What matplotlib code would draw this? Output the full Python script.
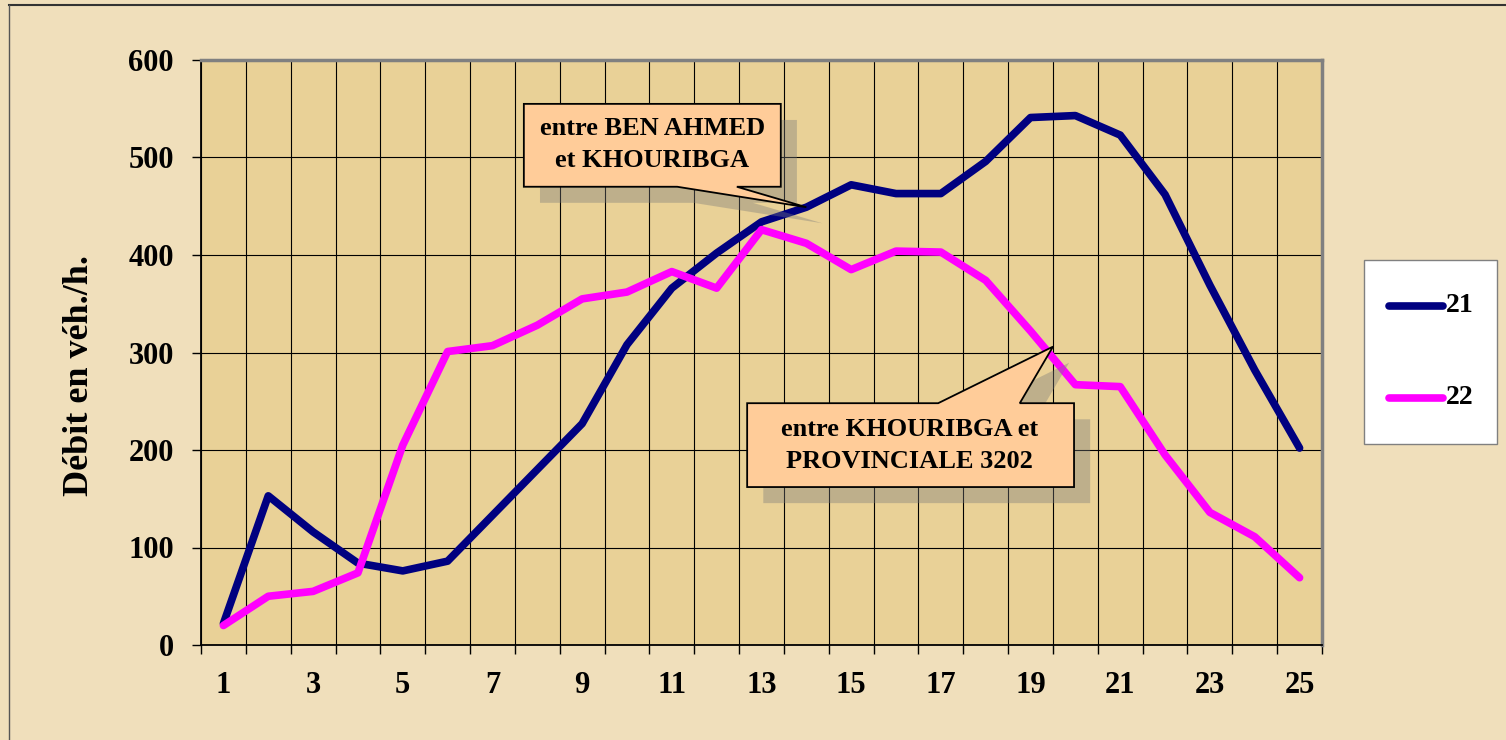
"""Débit horaire sur deux sections de route (21 et 22)."""

import matplotlib
matplotlib.use("Agg")
import matplotlib.pyplot as plt
from matplotlib.patches import Polygon, Rectangle

# data
hours = list(range(1, 26))
s21 = [22, 153, 116, 84, 76, 86, 133, 180, 227, 308, 366, 402, 434, 449,
       472, 463, 463, 496, 541, 543, 523, 462, 369, 282, 202]
s22 = [20, 50, 55, 74, 205, 301, 307, 328, 355, 362, 383, 366, 426, 412,
       385, 404, 403, 374, 322, 267, 265, 195, 136, 111, 69]
labels = ["21", "22"]
colors = ['#000080', '#FF00FF']
yticks = [0, 100, 200, 300, 400, 500, 600]

plt.rcParams['font.family'] = ['Liberation Serif', 'DejaVu Serif']
plt.rcParams['font.weight'] = 'bold'

W, H = 1506, 740
fig = plt.figure(figsize=(W / 100, H / 100), dpi=100, facecolor='#F0DFBB')
ax = fig.add_axes([201 / W, 1 - 645 / H, 1121 / W, 585 / H])
ax.set_facecolor('#E9D197')

# outer frame lines (top and left)
fig.add_artist(plt.Line2D([9 / W, 1], [1 - 5 / H, 1 - 5 / H],
                          transform=fig.transFigure, color='#333333', lw=1.5))
fig.add_artist(plt.Line2D([9 / W, 9 / W], [0, 1 - 5 / H],
                          transform=fig.transFigure, color='#555555', lw=1.0))

# lines
for vals, c, lab in zip([s21, s22], colors, labels):
    ax.plot(hours, vals, color=c, lw=5.5, label=lab,
            solid_capstyle='round', solid_joinstyle='round', zorder=3)

ax.set_xlim(0.5, 25.5)
ax.set_ylim(0, 600)

# ticks / grid
bounds = [b + 0.5 for b in range(0, 26)]
ax.set_xticks(bounds)
ax.set_xticklabels([''] * len(bounds))
ax.set_xticks(hours[::2], minor=True)
ax.set_xticklabels([str(h) for h in hours[::2]], minor=True)
ax.tick_params(axis='x', which='major', length=6.5, width=1, direction='out')
ax.tick_params(axis='x', which='minor', length=0, pad=19, labelsize=22)
ax.set_yticks(yticks)
ax.set_yticklabels([str(v) for v in yticks])
ax.tick_params(axis='y', length=6.5, width=1, pad=13, labelsize=22)
ax.grid(True, which='major', color='black', lw=0.8, zorder=1)
ax.set_axisbelow(True)

for side in ['left', 'bottom']:
    ax.spines[side].set_color('black')
    ax.spines[side].set_linewidth(1.3)
for side in ['top', 'right']:
    ax.spines[side].set_color('#808080')
    ax.spines[side].set_linewidth(2.5)

ax.set_ylabel("Débit en véh./h.", fontsize=26, fontweight='bold')
ax.yaxis.set_label_coords(-0.094, 0.46)


# callouts
def callout(x0, x1, y0, y1, b0, b1, tip, top, text, tx, ty):
    if top:
        pts = [(x0, y0), (x1, y0), (x1, y1), (b1, y1), tip, (b0, y1), (x0, y1)]
    else:
        pts = [(x0, y0), (b0, y0), tip, (b1, y0), (x1, y0), (x1, y1), (x0, y1)]
    dx, dy = 0.36, -16.5
    shadow = Polygon([(p[0] + dx, p[1] + dy) for p in pts], closed=True,
                     facecolor='#7a7a7a', alpha=0.38, edgecolor='none',
                     zorder=4, clip_on=False)
    ax.add_patch(shadow)
    box = Polygon(pts, closed=True, facecolor='#FFCC99', edgecolor='black',
                  lw=1.3, zorder=5, clip_on=False)
    ax.add_patch(box)
    ax.text(tx, ty, text, ha='center', va='center', fontsize=19,
            fontweight='bold', linespacing=1.5, zorder=6)


callout(7.70, 13.43, 470, 555, 11.12, 12.45, (14.0, 449), False,
        "entre BEN AHMED\net KHOURIBGA", 10.56, 513)
callout(12.68, 19.97, 162, 248, 16.94, 18.76, (19.5, 306), True,
        "entre KHOURIBGA et\nPROVINCIALE 3202", 16.31, 205)

# legend, drawn by hand in figure pixels
fig.add_artist(Rectangle((1364 / W, 1 - 444 / H), 133 / W, 184 / H,
                         transform=fig.transFigure, facecolor='white',
                         edgecolor='#808080', lw=1.0))
for i, (c, lab) in enumerate(zip(colors, labels)):
    yy = 1 - (306 + 92 * i) / H
    fig.add_artist(plt.Line2D([1389 / W, 1443 / W], [yy, yy],
                              transform=fig.transFigure, color=c, lw=5.5,
                              solid_capstyle='round'))
    fig.text(1446 / W, yy, lab, ha='left', va='center', fontsize=20,
             fontweight='bold')

fig.savefig("out.png", dpi=100, facecolor=fig.get_facecolor())
